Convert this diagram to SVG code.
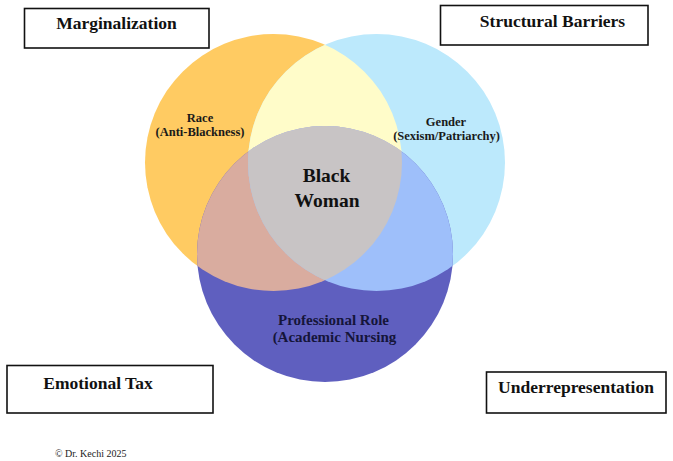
<svg xmlns="http://www.w3.org/2000/svg" width="673" height="461" viewBox="0 0 673 461">
<style>
.box{fill:#fff;stroke:#111;stroke-width:1.6}
.bt{font-family:"Liberation Serif","Times New Roman",serif;font-weight:bold;font-size:17.5px;fill:#111;text-anchor:middle}
.lbl{font-family:"Liberation Serif","Times New Roman",serif;font-weight:bold;font-size:12.5px;fill:#1a1a1a;text-anchor:middle}
.big{font-family:"Liberation Serif","Times New Roman",serif;font-weight:bold;font-size:19.5px;fill:#111;text-anchor:middle}
.pr{font-family:"Liberation Serif","Times New Roman",serif;font-weight:bold;font-size:15px;fill:#15153a;text-anchor:middle}
.cp{font-family:"Liberation Serif","Times New Roman",serif;font-size:10px;fill:#222}
</style>
<defs>
<clipPath id="cO"><circle cx="273.5" cy="162.5" r="128.5"/></clipPath>
<clipPath id="cB"><circle cx="376.5" cy="162.5" r="128.5"/></clipPath>
</defs>
<rect width="673" height="461" fill="#fff"/>
<g id="venn">
<g id="race"><circle cx="273.5" cy="162.5" r="128.5" fill="#FFCB62"/></g>
<g id="gender"><circle cx="376.5" cy="162.5" r="128.5" fill="#BCE9FC"/></g>
<g id="professional"><circle cx="325" cy="254" r="128" fill="#5F5FBF"/></g>
<g id="race-gender" clip-path="url(#cO)"><circle cx="376.5" cy="162.5" r="128.5" fill="#FFFCC9"/></g>
<g id="race-professional" clip-path="url(#cO)"><circle cx="325" cy="254" r="128" fill="#D9AC9F"/></g>
<g id="gender-professional" clip-path="url(#cB)"><circle cx="325" cy="254" r="128" fill="#9EBFFA"/></g>
<g id="black-woman-region" clip-path="url(#cO)"><g clip-path="url(#cB)"><circle cx="325" cy="254" r="128" fill="#C8C4C5"/></g></g>
</g>
<g id="labels">
<g id="race-label"><text class="lbl" x="200" y="122">Race</text><text class="lbl" x="200" y="135.5">(Anti-Blackness)</text></g>
<g id="gender-label"><text class="lbl" x="446" y="126">Gender</text><text class="lbl" x="446.5" y="140">(Sexism/Patriarchy)</text></g>
<g id="center-label"><text class="big" x="326.5" y="182">Black</text><text class="big" x="327" y="207">Woman</text></g>
<g id="professional-label"><text class="pr" x="333.5" y="325">Professional Role</text><text class="pr" x="334.5" y="342">(Academic Nursing</text></g>
</g>
<g id="connectors"></g>
<g id="marginalization"><rect class="box" x="24.5" y="8.5" width="184.5" height="39.5"/><text class="bt" x="116.5" y="29">Marginalization</text></g>
<g id="structural-barriers"><rect class="box" x="440.5" y="5.5" width="207.5" height="39.5"/><text class="bt" x="552.5" y="27">Structural Barriers</text></g>
<g id="emotional-tax"><rect class="box" x="7" y="365.5" width="206" height="47.5"/><text class="bt" x="98" y="389">Emotional Tax</text></g>
<g id="underrepresentation"><rect class="box" x="486.5" y="372" width="179.5" height="41"/><text class="bt" x="576" y="393">Underrepresentation</text></g>
<g id="copyright"><text class="cp" x="55" y="457">© Dr. Kechi 2025</text></g>
</svg>
